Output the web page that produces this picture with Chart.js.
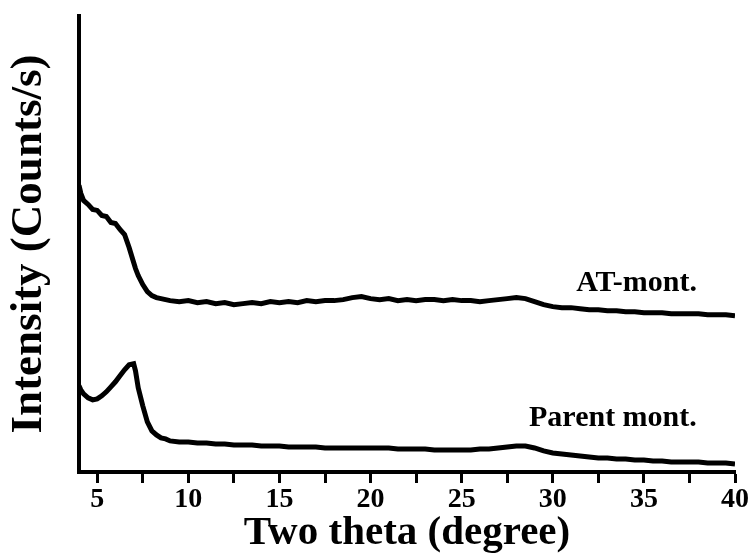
<!DOCTYPE html>
<html>
<head>
<meta charset="utf-8">
<script src="https://cdn.jsdelivr.net/npm/chart.js@4"></script>
<style>
  html, body { margin: 0; padding: 0; background: #ffffff; }
  #wrap { width: 752px; height: 555px; position: relative; }
</style>
</head>
<body>
<div id="wrap"><canvas id="xrd"></canvas></div>
<script>
// 2-theta positions (degree), shared by both patterns
const twoTheta = [
  4, 4.1, 4.25, 4.5, 4.75, 5, 5.25, 5.5, 5.75, 6, 6.25, 6.5, 6.75, 7, 7.1, 7.25, 7.5, 7.75, 8, 8.25, 8.5, 8.75,
  9, 9.5, 10, 10.5, 11, 11.5, 12, 12.5, 13, 13.5, 14, 14.5, 15, 15.5, 16, 16.5, 17, 17.5, 18, 18.5,
  19, 19.5, 20, 20.5, 21, 21.5, 22, 22.5, 23, 23.5, 24, 24.5, 25, 25.5, 26, 26.5, 27, 27.5, 28, 28.5,
  29, 29.5, 30, 30.5, 31, 31.5, 32, 32.5, 33, 33.5, 34, 34.5, 35, 35.5, 36, 36.5, 37, 37.5, 38, 38.5,
  39, 39.5, 40
];

// AT-mont. (offset trace, arbitrary counts)
const atMont = [
  286, 278, 271, 267, 262, 261, 256, 255, 249, 248, 242, 237, 224, 209, 203, 196, 187, 180, 176, 174, 173, 172,
  171, 170, 171, 169, 170, 168, 169, 167, 168, 169, 168, 170, 169, 170, 169, 171, 170, 171, 171, 172,
  174, 175, 173, 172, 173, 171, 172, 171, 172, 172, 171, 172, 171, 171, 170, 171, 172, 173, 174, 173,
  170, 167, 165, 164, 164, 163, 162, 162, 161, 161, 160, 160, 159, 159, 159, 158, 158, 158, 158, 157,
  157, 157, 156
];

// Parent mont.
const parentMont = [
  86, 82, 78, 74, 72, 73, 76, 80, 85, 90, 96, 102, 107, 108, 101, 84, 66, 50, 41, 37, 34, 33,
  31, 30, 30, 29, 29, 28, 28, 27, 27, 27, 26, 26, 26, 25, 25, 25, 25, 24, 24, 24,
  24, 24, 24, 24, 24, 23, 23, 23, 23, 22, 22, 22, 22, 22, 23, 23, 24, 25, 26, 26,
  24, 21, 19, 18, 17, 16, 15, 14, 14, 13, 13, 12, 12, 11, 11, 10, 10, 10, 10, 9,
  9, 9, 8
];

const xTicks = [5, 7.5, 10, 12.5, 15, 17.5, 20, 22.5, 25, 27.5, 30, 32.5, 35, 37.5, 40];

const traceLabels = ['AT-mont.', 'Parent mont.'];
const labelAt = [[34.6, 188], [33.3, 54]];

const serif = "'Liberation Serif', 'Times New Roman', serif";

const toPoints = (ys) => twoTheta.map((x, i) => ({ x: x, y: ys[i] }));

// Writes the sample names next to their traces
const traceNames = {
  id: 'traceNames',
  afterDatasetsDraw(chart) {
    const ctx = chart.ctx;
    const xs = chart.scales.x;
    const ys = chart.scales.y;
    ctx.save();
    ctx.fillStyle = '#000';
    ctx.font = 'bold 30px ' + serif;
    ctx.textAlign = 'center';
    ctx.textBaseline = 'middle';
    traceLabels.forEach((t, i) => {
      ctx.fillText(t, xs.getPixelForValue(labelAt[i][0]), ys.getPixelForValue(labelAt[i][1]));
    });
    ctx.restore();
  }
};

const lineStyle = {
  borderColor: '#000',
  borderWidth: 5,
  pointRadius: 0,
  tension: 0,
  fill: false
};

new Chart(document.getElementById('xrd'), {
  type: 'line',
  data: {
    datasets: [
      { label: traceLabels[0], data: toPoints(atMont), ...lineStyle },
      { label: traceLabels[1], data: toPoints(parentMont), ...lineStyle }
    ]
  },
  options: {
    responsive: true,
    maintainAspectRatio: false,
    animation: false,
    layout: { padding: { top: 16, right: 0, bottom: 1, left: 0 } },
    plugins: {
      legend: { display: false },
      tooltip: { enabled: false }
    },
    scales: {
      x: {
        type: 'linear',
        min: 4,
        max: 40,
        afterBuildTicks: (axis) => { axis.ticks = xTicks.map(v => ({ value: v })); },
        // the original lets the "40" label run off the page edge
        afterFit: (axis) => { axis.paddingRight = 17; },
        border: { display: true, color: '#000', width: 4 },
        grid: {
          drawOnChartArea: false,
          drawTicks: true,
          tickLength: 11,
          tickWidth: 3,
          tickColor: '#000'
        },
        ticks: {
          color: '#000',
          padding: 3,
          maxRotation: 0,
          autoSkip: false,
          font: { family: serif, size: 28, weight: 'bold', lineHeight: 1 },
          callback: (v) => (v % 5 === 0 ? String(v) : '')
        },
        title: {
          display: true,
          text: 'Two theta (degree)',
          color: '#000',
          padding: { top: -4, bottom: 0 },
          font: { family: serif, size: 41, weight: 'bold', lineHeight: 1 }
        }
      },
      y: {
        min: 0,
        max: 455,
        border: { display: true, color: '#000', width: 4 },
        grid: { display: false },
        ticks: { display: false },
        title: {
          display: true,
          text: 'Intensity (Counts/s)',
          color: '#000',
          padding: { top: 7, bottom: 19 },
          font: { family: serif, size: 45, weight: 'bold', lineHeight: 1 }
        }
      }
    }
  },
  plugins: [traceNames]
});
</script>
</body>
</html>
